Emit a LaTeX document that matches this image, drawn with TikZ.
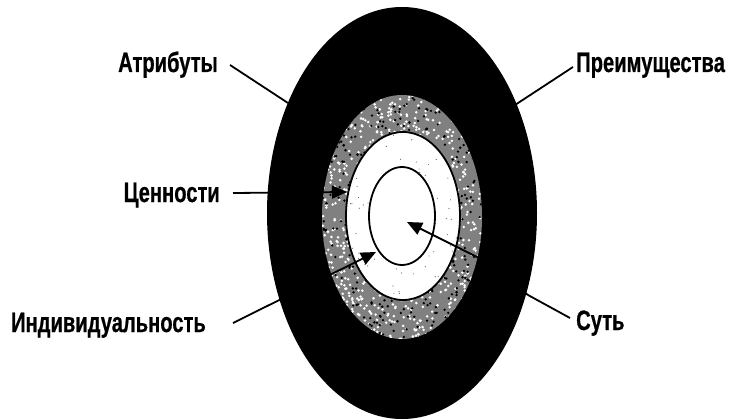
\documentclass[tikz,border=0pt]{standalone}
\usepackage{fontspec}
\setmainfont{Liberation Sans}
\newfontfamily\labfont{Liberation Sans}[FakeStretch=0.72,BoldFeatures={FakeBold=0.6}]
\usetikzlibrary{arrows.meta}
\tikzset{
  lab/.style={font=\labfont\bfseries\fontsize{28}{28}\selectfont, inner sep=0pt},
  lead/.style={line width=1.8pt, draw=black},
  arr/.style={lead, -{Triangle[length=15pt,width=13pt]}},
  ring/.style={line width=1.8pt, draw=black}
}
\begin{document}
\begin{tikzpicture}[x=1pt,y=-1pt]
\useasboundingbox (0,0) rectangle (734,420);
% outer black
\fill[black] (402,213) ellipse [x radius=135, y radius=206];
% gray textured ring
\fill[black!50] (402,217) ellipse [x radius=80, y radius=122];
\begin{scope}
  \clip (402,217) ellipse [x radius=80, y radius=122];
  \pgfmathsetseed{7}
  \foreach \i in {1,...,900}{
    \pgfmathsetmacro{\px}{322+160*rnd}
    \pgfmathsetmacro{\py}{95+244*rnd}
    \fill[white] (\px,\py) circle (1.4);
  }
  \foreach \i in {1,...,500}{
    \pgfmathsetmacro{\px}{322+160*rnd}
    \pgfmathsetmacro{\py}{95+244*rnd}
    \fill[black] (\px,\py) circle (1.3);
  }
\end{scope}
% white ellipse
\filldraw[fill=white, ring] (403,216) ellipse [x radius=57, y radius=84];
\begin{scope}
  \clip (403,216) ellipse [x radius=56, y radius=83];
  \pgfmathsetseed{3}
  \foreach \i in {1,...,90}{
    \pgfmathsetmacro{\px}{347+114*rnd}
    \pgfmathsetmacro{\py}{132+168*rnd}
    \fill[black!60] (\px,\py) circle (0.6);
  }
\end{scope}
% inner circle
\filldraw[fill=white, ring] (402,216) ellipse [x radius=33, y radius=49];

% labels
\node[lab, anchor=base east] (attr) at (218,72) {Атрибуты};
\node[lab, anchor=base east] (cenn) at (220,202) {Ценности};
\node[lab, anchor=base east] (indiv) at (206,332) {Индивидуальность};
\node[lab, anchor=base west] (preim) at (576,72) {Преимущества};
\node[lab, anchor=base west] (sut) at (576,330) {Суть};

% connector ends
\coordinate (attrE) at (288,103);
\coordinate (preimE) at (515,105);
\coordinate (cennT) at (347,192);
\coordinate (indivT) at (376,252);
\coordinate (sutB1) at (528,295);
\coordinate (sutB2) at (485,261);
\coordinate (sutT) at (407,222);

\draw[lead] ([xshift=12pt,yshift=7pt]attr.base east) -- (attrE);
\draw[lead] ([xshift=-3pt,yshift=5pt]preim.base west) -- (preimE);
\draw[arr] ([xshift=13pt,yshift=9pt]cenn.base east) -- (cennT);
\draw[arr] ([xshift=27pt,yshift=9pt]indiv.base east) -- (indivT);
\draw[arr] ([xshift=-6pt,yshift=12pt]sut.base west) -- (sutB1) -- (sutB2) -- (sutT);
\end{tikzpicture}
\end{document}
